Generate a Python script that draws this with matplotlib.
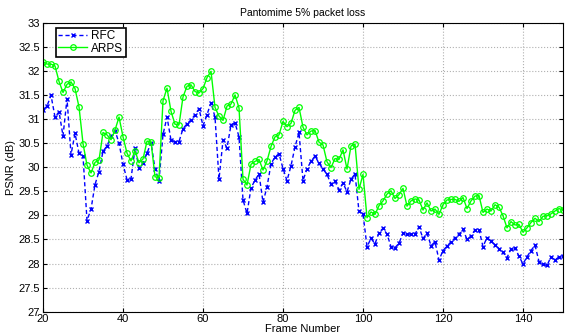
import matplotlib
matplotlib.use("Agg")
import matplotlib.pyplot as plt
import numpy as np

plt.rcParams['font.family'] = ['Liberation Sans', 'DejaVu Sans']

frames = list(range(20, 151))

rfc = [31.19, 31.27, 31.49, 31.04, 31.15, 30.65, 31.42, 30.26, 30.70, 30.29,
       30.23, 28.89, 29.13, 29.64, 29.91, 30.33, 30.44, 30.64, 30.76, 30.50,
       30.06, 29.74, 29.76, 30.39, 29.99, 30.09, 30.29, 30.51, 29.96, 29.72,
       30.68, 31.04, 30.56, 30.53, 30.53, 30.80, 30.90, 30.98, 31.09, 31.21,
       30.86, 31.09, 31.34, 31.04, 29.75, 30.56, 30.40, 30.88, 30.92, 30.63,
       29.32, 29.04, 29.57, 29.73, 29.86, 29.27, 29.59, 30.07, 30.21, 30.28,
       29.97, 29.72, 30.03, 30.42, 30.72, 29.72, 29.97, 30.12, 30.23, 30.08,
       29.96, 29.85, 29.65, 29.71, 29.53, 29.67, 29.49, 29.75, 29.86, 29.08,
       29.03, 28.35, 28.52, 28.41, 28.64, 28.73, 28.61, 28.35, 28.33, 28.42,
       28.63, 28.61, 28.61, 28.61, 28.76, 28.52, 28.63, 28.37, 28.45, 28.07,
       28.27, 28.36, 28.45, 28.53, 28.61, 28.71, 28.50, 28.57, 28.70, 28.70,
       28.35, 28.54, 28.46, 28.39, 28.31, 28.23, 28.12, 28.31, 28.33, 28.15,
       27.99, 28.14, 28.27, 28.38, 28.04, 27.98, 27.96, 28.14, 28.07, 28.14,
       28.16]

arps = [32.19, 32.14, 32.14, 32.10, 31.78, 31.55, 31.72, 31.77, 31.63, 31.25,
        30.49, 30.04, 29.88, 30.10, 30.15, 30.72, 30.67, 30.57, 30.77, 31.04,
        30.63, 30.29, 30.13, 30.34, 30.09, 30.17, 30.54, 30.53, 29.80, 29.78,
        31.38, 31.64, 31.16, 30.89, 30.88, 31.46, 31.68, 31.71, 31.57, 31.54,
        31.63, 31.86, 31.99, 31.24, 31.06, 30.97, 31.27, 31.31, 31.50, 31.23,
        29.75, 29.63, 30.06, 30.12, 30.16, 29.94, 30.13, 30.43, 30.63, 30.67,
        30.95, 30.84, 30.91, 31.18, 31.24, 30.83, 30.67, 30.75, 30.76, 30.52,
        30.46, 30.11, 29.99, 30.18, 30.16, 30.36, 29.96, 30.44, 30.48, 29.54,
        29.85, 28.95, 29.07, 29.02, 29.20, 29.30, 29.44, 29.51, 29.35, 29.43,
        29.56, 29.19, 29.30, 29.34, 29.32, 29.11, 29.26, 29.09, 29.13, 29.02,
        29.22, 29.32, 29.33, 29.33, 29.29, 29.37, 29.14, 29.30, 29.40, 29.41,
        29.06, 29.13, 29.09, 29.22, 29.17, 28.99, 28.74, 28.87, 28.80, 28.81,
        28.65, 28.74, 28.85, 28.94, 28.87, 28.98, 28.99, 29.03, 29.09, 29.14,
        29.11]

series_names = ["RFC", "ARPS"]
title = "Pantomime 5% packet loss"
xlabel = "Frame Number"
ylabel = "PSNR (dB)"

fig = plt.figure(figsize=(5.66, 3.33), dpi=100)
ax = fig.add_axes([0.076, 0.064, 0.9187, 0.868])

ax.plot(frames, rfc, color='#0000ff', linestyle='--', linewidth=1.0,
        marker='x', markersize=3, markeredgewidth=1.0, label=series_names[0],
        dashes=(3, 2))
ax.plot(frames, arps, color='#00ff00', linestyle='-', linewidth=1.0,
        marker='o', markersize=4, markerfacecolor='none', markeredgewidth=0.9,
        label=series_names[1])

ax.set_xlim(20, 150)
ax.set_ylim(27, 33)
ax.set_xticks(np.arange(20, 151, 20))
ax.set_yticks(np.arange(27, 33.01, 0.5))
ax.set_yticklabels([f"{v:g}" for v in np.arange(27, 33.01, 0.5)])
ax.tick_params(direction='in', length=3, labelsize=8, pad=2, top=True, right=True)
ax.grid(True, linestyle=':', color='#b0b0b0', linewidth=0.8)
for s in ax.spines.values():
    s.set_linewidth(0.8)

ax.set_title(title, fontsize=7.5, pad=5)
ax.set_xlabel(xlabel, fontsize=8, labelpad=0)
ax.set_ylabel(ylabel, fontsize=8, labelpad=2)

leg = ax.legend(loc='upper left', bbox_to_anchor=(0.025, 0.983), borderaxespad=0,
                fontsize=8.5, fancybox=False, framealpha=1, edgecolor='black',
                numpoints=1, handlelength=2.4, borderpad=0.2, labelspacing=0.05,
                handletextpad=0.4)
leg.get_frame().set_linewidth(1.2)
leg._legend_box.align = "left"
leg.get_frame().set_width(leg.get_frame().get_width())

fig.savefig("out.png", dpi=100)
